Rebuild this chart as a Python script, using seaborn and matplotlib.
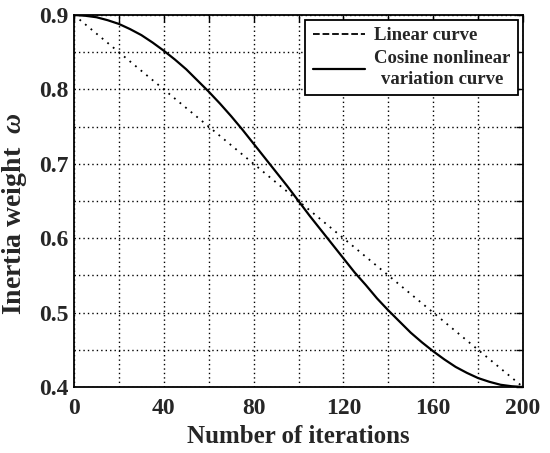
import numpy as np
import pandas as pd
import matplotlib
matplotlib.use("Agg")
import matplotlib.pyplot as plt
import seaborn as sns
from matplotlib.ticker import MultipleLocator
from matplotlib.lines import Line2D

iterations = [0, 5, 10, 15, 20, 25, 30, 35, 40, 45, 50, 55, 60, 65, 70, 75, 80, 85, 90, 95, 100,
              105, 110, 115, 120, 125, 130, 135, 140, 145, 150, 155, 160, 165, 170, 175, 180, 185, 190, 195, 200]
cosine_w = [0.900, 0.899, 0.897, 0.893, 0.888, 0.881, 0.873, 0.863, 0.852, 0.840, 0.827, 0.812,
            0.797, 0.781, 0.764, 0.746, 0.727, 0.708, 0.689, 0.670, 0.650,
            0.630, 0.611, 0.592, 0.573, 0.554, 0.537, 0.519, 0.503, 0.488, 0.473, 0.460,
            0.448, 0.437, 0.427, 0.419, 0.412, 0.407, 0.403, 0.401, 0.400]
linear_x = [0, 200]
linear_w = [0.9, 0.4]
x_ticks = [0, 40, 80, 120, 160, 200]
y_ticks = [0.4, 0.5, 0.6, 0.7, 0.8, 0.9]

sns.set_theme(style="white")
plt.rcParams['font.family'] = ['Liberation Serif', 'DejaVu Serif']
plt.rcParams['font.weight'] = 'bold'
plt.rcParams['mathtext.fontset'] = 'custom'
plt.rcParams['mathtext.it'] = 'Liberation Serif:bold:italic'
plt.rcParams['mathtext.rm'] = 'Liberation Serif:bold'

fig = plt.figure(figsize=(5.5, 4.53), dpi=100)
ax = fig.add_axes([74/550, 1-387/453, (523-74)/550, (387-15)/453])

sns.lineplot(x=linear_x, y=linear_w, ax=ax, color='black', linestyle=(0, (1, 3)), linewidth=1.3)
sns.lineplot(x=iterations, y=cosine_w, ax=ax, color='black', linewidth=1.6)

ax.set_xlim(0, 200)
ax.set_ylim(0.4, 0.9)
ax.set_xticks(x_ticks)
ax.set_yticks(y_ticks)
ax.set_yticklabels([f"{v:.1f}" for v in y_ticks])
ax.xaxis.set_minor_locator(MultipleLocator(20))
ax.yaxis.set_minor_locator(MultipleLocator(0.05))
ax.grid(True, which='both', color='black', linestyle=(0, (1, 2.2)), linewidth=1.0)
ax.tick_params(which='both', direction='in', top=True, right=True, length=5, width=1, color='black')
ax.tick_params(which='major', labelsize=17)
ax.tick_params(axis='x', which='major', pad=8)
ax.tick_params(axis='y', which='major', pad=4)
for lab in ax.get_xticklabels() + ax.get_yticklabels():
    lab.set_fontweight('bold')
for s in ax.spines.values():
    s.set_color('black')
    s.set_linewidth(1.3)

ax.set_xlabel("Number of iterations", fontsize=18, fontweight='bold', labelpad=4)
ax.set_ylabel(r"Inertia weight  $\omega$", fontsize=20, fontweight='bold')
ax.yaxis.set_label_coords(-0.10, 0.465)

handles = [Line2D([0], [0], color='black', linestyle='--', linewidth=1.3),
           Line2D([0], [0], color='black', linestyle='-', linewidth=1.6)]
leg = ax.legend(handles, ["Linear curve", "Cosine nonlinear\nvariation curve"],
                loc='upper right', frameon=True, fancybox=False,
                edgecolor='black', framealpha=1, borderaxespad=0.25, handlelength=2.8,
                handletextpad=0.5, borderpad=0.4,
                labelspacing=0.3, prop={'weight': 'bold', 'size': 13.5})
leg.get_frame().set_linewidth(1.3)
for t in leg.get_texts():
    t.set_multialignment('center')
    t.set_linespacing(1.3)

fig.savefig("out.png", dpi=100)
